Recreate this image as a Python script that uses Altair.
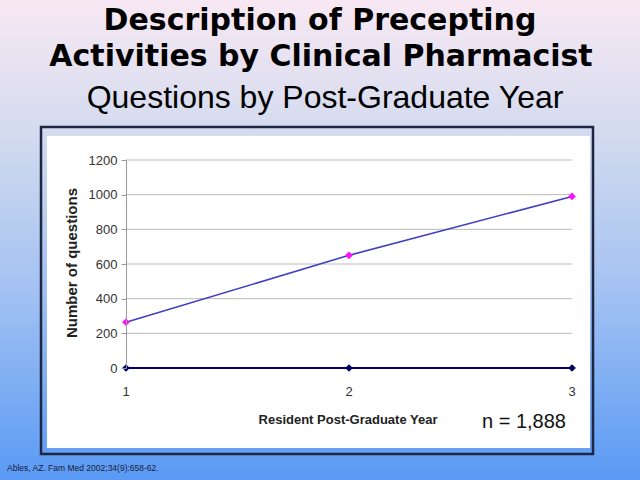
import altair as alt
import pandas as pd

# ---- data ----
years = [1, 2, 3]
questions = [264, 650, 990]
zero_series = [0, 0, 0]
y_ticks = [0, 200, 400, 600, 800, 1000, 1200]
x_ticks = [1, 2, 3]

title_lines = ["Description of Precepting", "Activities by Clinical Pharmacist"]
subtitle = "Questions by Post-Graduate Year"
x_title = "Resident Post-Graduate Year"
y_title = "Number of questions"
n_note = "n = 1,888"
footnote = "Ables, AZ. Fam Med 2002;34(9):658-62."

# ---- layout (plot area origin at 126,160; size 446x208) ----
W, H = 446, 208
PL, PT, PR, PB = 126, 160, 68, 112

series = pd.DataFrame({
    "year": years * 2,
    "value": questions + zero_series,
    "series": ["Questions"] * 3 + ["Zero"] * 3,
})
grid_df = pd.DataFrame({"value": y_ticks[1:]})
xtick_df = pd.DataFrame({"year": x_ticks, "lab": [str(v) for v in x_ticks]})
one = pd.DataFrame({"k": [0]})

xscale = alt.Scale(domain=[1, 3], nice=False, zero=False)
yscale = alt.Scale(domain=[0, 1200], nice=False)
xaxis = alt.Axis(values=x_ticks, title=None, domain=False, ticks=False, labels=False,
                 grid=False, zindex=1)
yaxis = alt.Axis(values=y_ticks, format="d", title=None, grid=False, tickSize=5,
                 tickColor="#9a9a9a", domainColor="#9a9a9a", labelPadding=4, labelFontSize=13,
                 labelOverlap=False, labelFont="Liberation Sans", labelColor="#333333", zindex=1)
X = alt.X("year:Q", scale=xscale, axis=xaxis)
Y = alt.Y("value:Q", scale=yscale, axis=yaxis)

bg = alt.Chart(one).mark_rect(
    fill=alt.LinearGradient(
        gradient="linear", x1=0, x2=0, y1=0, y2=1,
        stops=[
            alt.GradientStop(offset=0, color="#f8e8f3"),
            alt.GradientStop(offset=0.28, color="#d3dbef"),
            alt.GradientStop(offset=0.6, color="#a4c2f2"),
            alt.GradientStop(offset=1, color="#5a9af5"),
        ],
    )
).encode(x=alt.value(-PL), x2=alt.value(640 - PL), y=alt.value(-PT), y2=alt.value(480 - PT))

border = alt.Chart(one).mark_rect(fill=None, stroke="#1e2742", strokeWidth=2.5).encode(
    x=alt.value(41 - PL), x2=alt.value(593 - PL), y=alt.value(127 - PT), y2=alt.value(454 - PT)
)
white = alt.Chart(one).mark_rect(fill="white").encode(
    x=alt.value(47 - PL), x2=alt.value(590 - PL), y=alt.value(136 - PT), y2=alt.value(448 - PT)
)

grid = alt.Chart(grid_df).mark_rule(color="#bababa", strokeWidth=1).encode(
    y=Y, x=alt.value(0), x2=alt.value(W)
)

lines = alt.Chart(series).mark_line(strokeWidth=1.6).encode(
    x=X, y=Y,
    color=alt.Color("series:N", scale=alt.Scale(domain=["Questions", "Zero"],
                                                 range=["#3f3fc4", "#000070"]), legend=None),
)
zero_line = alt.Chart(series[series.series == "Zero"]).mark_line(
    color="#000070", strokeWidth=2.2).encode(x=X, y=Y)
points = alt.Chart(series).mark_point(shape="diamond", filled=True, size=60, opacity=1).encode(
    x=X, y=Y,
    fill=alt.Fill("series:N", scale=alt.Scale(domain=["Questions", "Zero"],
                                              range=["#ff10ff", "#000060"]), legend=None),
)
xlabels = alt.Chart(xtick_df).mark_text(
    align="center", baseline="middle", fontSize=13, font="Liberation Sans", color="#333333"
).encode(x=X, y=alt.value(392 - PT), text="lab:N")


def txt(s, x, y, size, bold=False, font="Liberation Sans", align="center", baseline="alphabetic",
        angle=0, color="black"):
    kw = dict(align=align, baseline=baseline, fontSize=size, font=font,
              fontWeight="bold" if bold else "normal", color=color)
    if angle:
        kw["angle"] = angle
    return alt.Chart(pd.DataFrame({"t": [s]})).mark_text(**kw).encode(
        x=alt.value(x), y=alt.value(y), text="t:N")


texts = [
    txt(title_lines[0], 320 - PL, 30 - PT, 30, bold=True, font="DejaVu Sans"),
    txt(title_lines[1], 321 - PL, 66 - PT, 30, bold=True, font="DejaVu Sans"),
    txt(subtitle, 325 - PL, 108 - PT, 32),
    txt(x_title, 348 - PL, 424 - PT, 13, bold=True, color="#222222"),
    txt(y_title, 72 - PL, 263 - PT, 15, bold=True, baseline="middle", angle=270, color="#222222"),
    txt(n_note, 482 - PL, 428 - PT, 20, align="left", color="#111111"),
    txt(footnote, 7 - PL, 471 - PT, 8.5, align="left", color="#1a1a3a"),
]

chart = alt.layer(bg, border, white, grid, lines, zero_line, points, xlabels, *texts).properties(
    width=W, height=H,
    autosize=alt.AutoSizeParams(type="none"),
    padding={"left": PL, "top": PT, "right": PR, "bottom": PB},
    background="#5a9af5",
).configure_view(stroke=None)

chart.save("out.html", embed_options={"renderer": "svg", "actions": False})
